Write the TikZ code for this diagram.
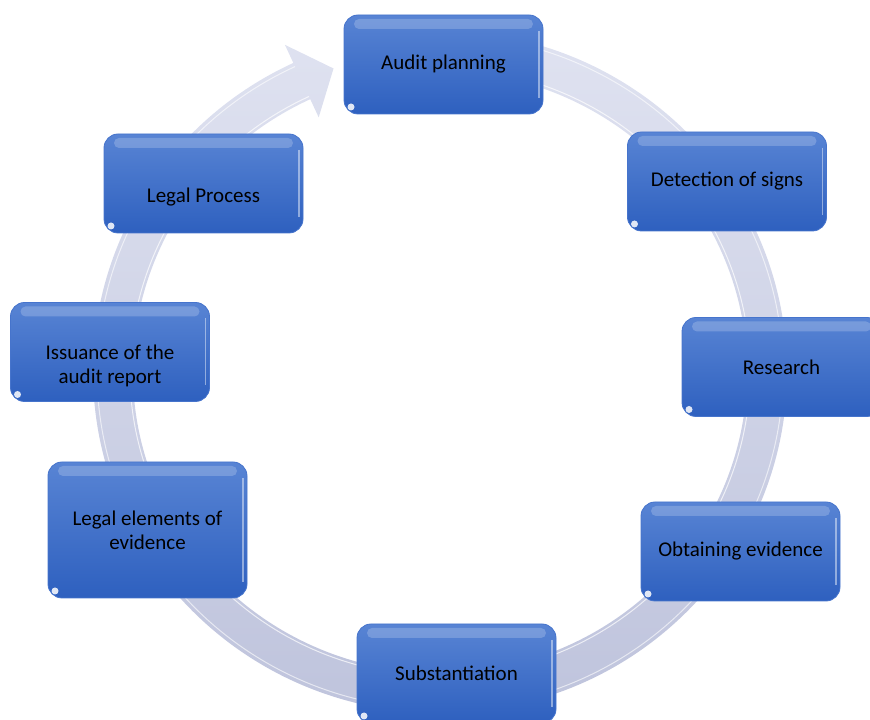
\documentclass[tikz,border=0pt]{standalone}
\usepackage{fontspec}
\setmainfont{Carlito}
\definecolor{boxtop}{RGB}{88,132,212}
\definecolor{boxbot}{RGB}{46,96,191}
\definecolor{boxedge}{RGB}{70,116,204}
\definecolor{ringtop}{RGB}{224,227,241}
\definecolor{ringbot}{RGB}{190,195,220}
\tikzset{
  stage/.style={rectangle, rounded corners=14pt, draw=boxedge, line width=0.8pt,
    top color=boxtop, bottom color=boxbot,
    minimum width=199pt, minimum height=99pt,
    font=\fontsize{21}{24}\selectfont, text=black, align=center,
    path picture={
      \fill[white, opacity=0.2, rounded corners=5pt]
        ([xshift=10pt,yshift=-4pt]path picture bounding box.north west) rectangle
        ([xshift=-10pt,yshift=-14pt]path picture bounding box.north east);
      \draw[white, opacity=0.45, line width=1.4pt]
        ([xshift=-4pt,yshift=-16pt]path picture bounding box.north east) --
        ([xshift=-4pt,yshift=16pt]path picture bounding box.south east);
      \fill[white, opacity=0.85]
        ([xshift=7pt,yshift=7pt]path picture bounding box.south west) circle (3.5pt);
    }},
  lowlabel/.style={font=\fontsize{21}{24}\selectfont, text=black, align=center, yshift=-14pt}
}
\begin{document}
\begin{tikzpicture}[x=1pt, y=1pt]
	\useasboundingbox (0,0) rectangle (870,720);

	%% Circular arrow
	\begin{scope}[shift={(440,348)}]
		\shade[top color=ringtop, bottom color=ringbot]
		(95:347 and 341) arc[start angle=95, end angle=-245, x radius=347, y radius=341]
		-- (-245:367 and 361) -- (-251:327 and 321) -- (-245:287 and 281)
		-- (-245:307 and 301) arc[start angle=-245, end angle=95, x radius=307, y radius=301]
		-- cycle;
		\draw[white, opacity=0.7, line width=1pt]
		(-245:310 and 304) arc[start angle=-245, end angle=95, x radius=310, y radius=304];
		\draw[white, opacity=0.6, line width=1pt]
		(95:343 and 337) arc[start angle=95, end angle=-245, x radius=343, y radius=337];
	\end{scope}

	%% Stages
	\node[stage] (plan) at (443.5,655.5) {Audit planning};
	\node[stage] (detect) at (727,538.5) {Detection of signs};
	\node[stage] (research) at (781.5,353) {Research};
	\node[stage] (obtain) at (740.5,168.5) {Obtaining evidence};
	\node[stage] (subst) at (456.5,46.5) {Substantiation};
	\node[stage, minimum height=136pt] (elements) at (147.5,190) {Legal elements of\\evidence};
	\node[stage, label={[lowlabel]center:Issuance of the\\audit report}] (report) at (110,368) {};
	\node[stage, label={[lowlabel]center:Legal Process}] (process) at (203.5,536.5) {};

\end{tikzpicture}
\end{document}
